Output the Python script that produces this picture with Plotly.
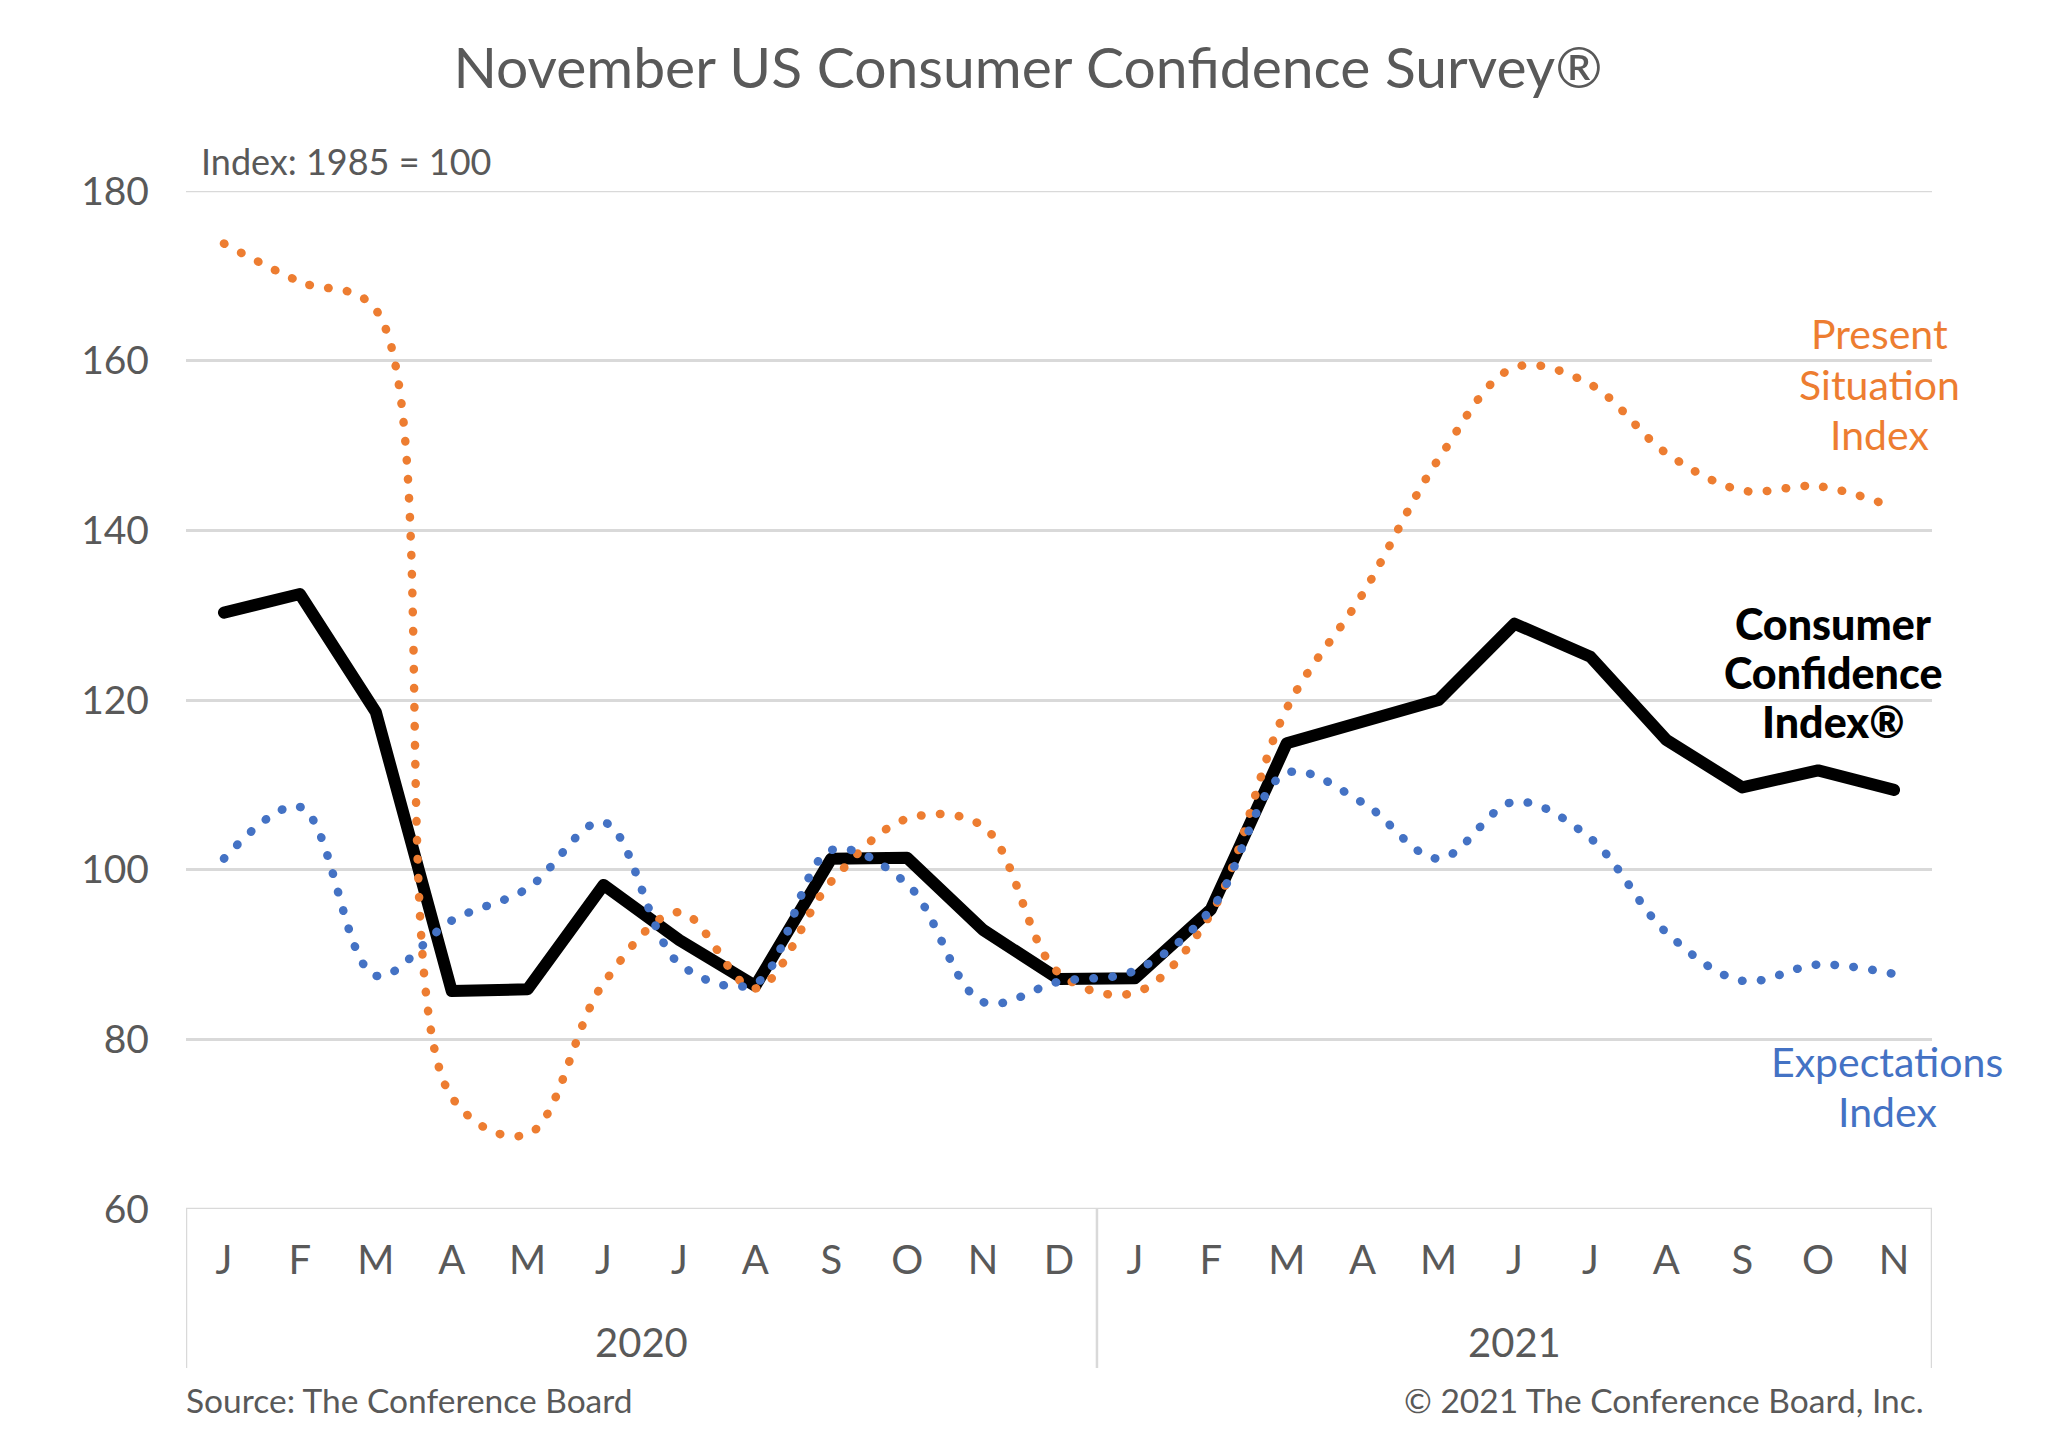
import plotly.graph_objects as go

# ---- data ----
months = ["J", "F", "M", "A", "M", "J", "J", "A", "S", "O", "N", "D",
          "J", "F", "M", "A", "M", "J", "J", "A", "S", "O", "N"]
years = ["2020", "2021"]
consumer_confidence = [130.3, 132.5, 118.6, 85.7, 85.9, 98.2, 91.7, 86.3, 101.3, 101.4, 92.9, 87.1,
                       87.2, 95.3, 114.9, 117.5, 120.0, 129.0, 125.1, 115.3, 109.7, 111.7, 109.4]
present_situation = [173.8, 169.3, 166.0, 73.2, 68.8, 86.6, 95.0, 86.0, 98.6, 106.0, 105.1, 87.8,
                     85.5, 94.8, 119.0, 132.5, 148.4, 159.2, 157.2, 149.1, 144.7, 145.2, 142.7]
expectations = [101.3, 107.4, 87.5, 94.0, 97.8, 105.6, 88.9, 86.6, 102.3, 98.3, 84.4, 86.8,
                88.1, 95.3, 111.4, 107.9, 101.3, 108.0, 103.7, 92.6, 86.9, 88.8, 87.7]
y_ticks = [60, 80, 100, 120, 140, 160, 180]

W, H = 2056, 1436
L, R, T, B = 186, 124, 191, 227
PW, PH = W - L - R, H - T - B

GREY = "#595959"
GRID = "#D9D9D9"
ORANGE = "#ED7D31"
BLUE = "#4472C4"
FONT = "Lato"


def px(xp, yp):
    return (xp - L) / PW, (H - B - yp) / PH


x = list(range(len(months)))

fig = go.Figure()
fig.add_trace(go.Scatter(x=x, y=consumer_confidence, mode="lines",
                         line=dict(color="black", width=12), hoverinfo="skip"))
fig.add_trace(go.Scatter(x=x, y=present_situation, mode="lines",
                         line=dict(color=ORANGE, width=8.5, dash="0.5px,18.5px",
                                   shape="spline", smoothing=1), hoverinfo="skip"))
fig.add_trace(go.Scatter(x=x, y=expectations, mode="lines",
                         line=dict(color=BLUE, width=8.5, dash="0.5px,18.5px",
                                   shape="spline", smoothing=1), hoverinfo="skip"))

annotations = []


def add_text(text, xp, yp, size, color, xanchor="center", weight="normal"):
    ax, ay = px(xp, yp)
    annotations.append(dict(text=text, x=ax, y=ay, xref="paper", yref="paper",
                            xanchor=xanchor, yanchor="middle", showarrow=False,
                            font=dict(family=FONT, size=size, color=color, weight=weight)))


# axis subtitle
add_text("Index: 1985 = 100", 199, 161, 36, GREY, xanchor="left")
# series labels
add_text("Present", 1879, 334, 41, ORANGE)
add_text("Situation", 1879, 384, 41, ORANGE)
add_text("Index", 1879, 434, 41, ORANGE)
add_text("Consumer", 1833, 623, 43, "black", weight=900)
add_text("Confidence", 1833, 672, 43, "black", weight=900)
add_text("Index®", 1833, 721, 43, "black", weight=900)
add_text("Expectations", 1887, 1061, 41, BLUE)
add_text("Index", 1887, 1111, 41, BLUE)
# year labels
add_text(years[0], 641, 1342, 40, GREY)
add_text(years[1], 1514, 1342, 40, GREY)
# footer
add_text("Source: The Conference Board", 184, 1400, 33.5, GREY, xanchor="left")
add_text("© 2021 The Conference Board, Inc.", 1926, 1400, 33.5, GREY, xanchor="right")

shapes = []
for sx in [-0.5, 11.5, len(months) - 0.5]:
    shapes.append(dict(type="line", xref="x", yref="paper", x0=sx, x1=sx,
                       y0=0, y1=-(1368 - (H - B)) / PH,
                       line=dict(color=GRID, width=2.5), layer="below"))
for gy in [y_ticks[0], y_ticks[-1]]:
    shapes.append(dict(type="line", xref="paper", yref="y", x0=0, x1=1,
                       y0=gy, y1=gy, line=dict(color=GRID, width=2.5), layer="below"))

fig.update_layout(
    width=W, height=H, autosize=False,
    margin=dict(l=L, r=R, t=T, b=B),
    paper_bgcolor="white", plot_bgcolor="white",
    showlegend=False,
    title=dict(text="November US Consumer Confidence Survey®",
               x=0.5, xref="container", xanchor="center",
               y=1 - 68 / H, yref="container", yanchor="middle",
               font=dict(family=FONT, size=57, color=GREY)),
    xaxis=dict(range=[-0.5, len(months) - 0.5], tickmode="array", tickvals=x,
               ticktext=months, showgrid=False, zeroline=False, showline=False,
               ticks="", ticklabelstandoff=24,
               tickfont=dict(family=FONT, size=40, color=GREY), fixedrange=True),
    yaxis=dict(range=[60, 180], tickmode="array", tickvals=y_ticks,
               showgrid=True, gridcolor=GRID, gridwidth=2.5, zeroline=False,
               showline=False, ticks="", ticklabelstandoff=36,
               tickfont=dict(family=FONT, size=39, color=GREY), fixedrange=True),
    annotations=annotations,
    shapes=shapes,
)

post = """
document.body.style.margin='0';
var gd=document.getElementById('{plot_id}');
function rc(){
  document.querySelectorAll('.scatterlayer path.js-line').forEach(function(p){
    p.style.strokeLinecap='round'; p.style.strokeLinejoin='round';
  });
}
rc();
if(gd && gd.on){ gd.on('plotly_afterplot', rc); }
"""

fig.write_html("out.html", post_script=post, config={"displayModeBar": False})
